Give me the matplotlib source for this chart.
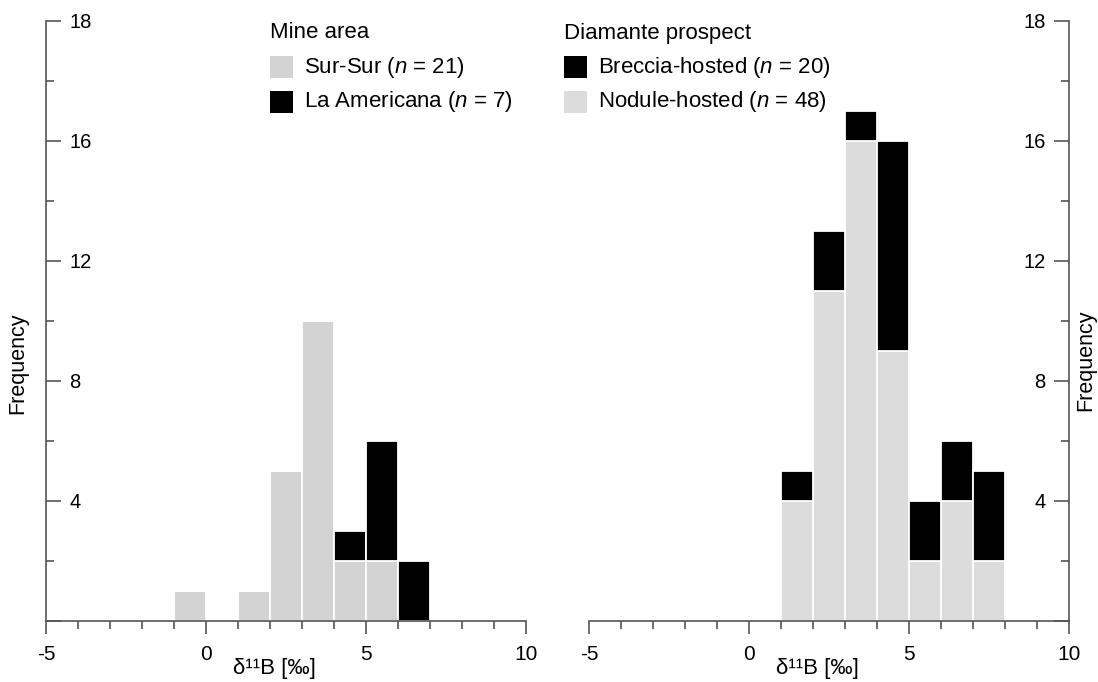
import matplotlib
matplotlib.use("Agg")
import matplotlib.pyplot as plt
from matplotlib.patches import Rectangle

plt.rcParams["font.family"] = ["Liberation Sans", "DejaVu Sans"]
plt.rcParams["mathtext.fontset"] = "custom"
plt.rcParams["mathtext.rm"] = "Liberation Sans"
plt.rcParams["mathtext.it"] = "Liberation Sans:italic"
plt.rcParams["axes.unicode_minus"] = False

# Mine area (left panel), bins of 1 permil, left edges
mine_bins = [-1, 0, 1, 2, 3, 4, 5, 6]
sur_sur = [1, 0, 1, 5, 10, 2, 2, 0]
la_americana = [0, 0, 0, 0, 0, 1, 4, 2]

# Diamante prospect (right panel)
dia_bins = [1, 2, 3, 4, 5, 6, 7]
nodule = [4, 11, 16, 9, 2, 4, 2]
breccia = [1, 2, 1, 7, 2, 2, 3]

y_major = [0, 4, 8, 12, 16, 20]
y_labels = ["", "4", "8", "12", "16", "18"]
y_minor = [2, 6, 10, 14, 18]
x_major = [-5, 0, 5, 10]
x_minor = list(range(-5, 11))

GREY_L = "#d3d3d3"
GREY_R = "#dcdcdc"
AXC = "#555555"
W, H = 1098, 682

fig = plt.figure(figsize=(W / 100, H / 100), dpi=100)
ax1 = fig.add_axes([46 / W, 61 / H, 480 / W, 600 / H])
ax2 = fig.add_axes([589 / W, 61 / H, 480 / W, 600 / H])

bar_kw = dict(width=1, align="edge", edgecolor="white", linewidth=1.3)
ax1.bar(mine_bins, sur_sur, color=GREY_L, **bar_kw)
ax1.bar(mine_bins, la_americana, bottom=sur_sur, color="black", **bar_kw)
ax2.bar(dia_bins, nodule, color=GREY_R, **bar_kw)
ax2.bar(dia_bins, breccia, bottom=nodule, color="black", **bar_kw)

for ax, side in ((ax1, "left"), (ax2, "right")):
    ax.set_xlim(-5, 10)
    ax.set_ylim(0, 20)
    for s in ("top", "left", "right", "bottom"):
        ax.spines[s].set_visible(s in ("bottom", side))
        ax.spines[s].set_color(AXC)
        ax.spines[s].set_linewidth(1.2)
    ax.set_xticks(x_major)
    ax.set_xticks(x_minor, minor=True)
    ax.set_yticks(y_major)
    ax.set_yticklabels(y_labels)
    ax.set_yticks(y_minor, minor=True)
    ax.tick_params(axis="x", which="major", direction="out", length=9,
                   width=1.2, color=AXC, labelsize=15, pad=8)
    ax.tick_params(axis="x", which="minor", direction="out", length=6,
                   width=1.2, color=AXC)
    is_left = side == "left"
    ax.tick_params(axis="y", which="both", direction="in", width=1.2,
                   color=AXC, left=is_left, right=not is_left,
                   labelleft=is_left, labelright=not is_left)
    ax.tick_params(axis="y", which="major", length=11, labelsize=14.5,
                   pad=-17)
    ax.tick_params(axis="y", which="minor", length=5.5)
    for lab in ax.get_yticklabels():
        lab.set_horizontalalignment("left" if is_left else "right")
    ax.set_xlabel("δ¹¹B [‰]", fontsize=16)
    ax.xaxis.set_label_coords(0.475, -0.062)
    ax.set_ylabel("Frequency", fontsize=15.5)
    if not is_left:
        ax.yaxis.set_label_position("right")

ax1.yaxis.set_label_coords(-0.036, 0.43)
ax2.yaxis.set_label_coords(1.012, 0.435)


# legends drawn in figure pixels
def fx(x):
    return x / W


def fy(y):
    return 1 - y / H


def legend_block(x, title, entries):
    fig.text(fx(x), fy(33), title, fontsize=16, va="center", ha="left")
    for (label, color), yc in zip(entries, (67, 102)):
        fig.add_artist(Rectangle((fx(x), fy(yc + 11)), 23 / W, 22 / H,
                                 transform=fig.transFigure, color=color,
                                 linewidth=0))
        fig.text(fx(x + 34), fy(yc), label, fontsize=16, va="center",
                 ha="left")


legend_block(270, "Mine area",
             [("Sur-Sur ($n$ = 21)", GREY_L),
              ("La Americana ($n$ = 7)", "black")])
legend_block(564, "Diamante prospect",
             [("Breccia-hosted ($n$ = 20)", "black"),
              ("Nodule-hosted ($n$ = 48)", GREY_R)])

fig.savefig("out.png", dpi=100)
